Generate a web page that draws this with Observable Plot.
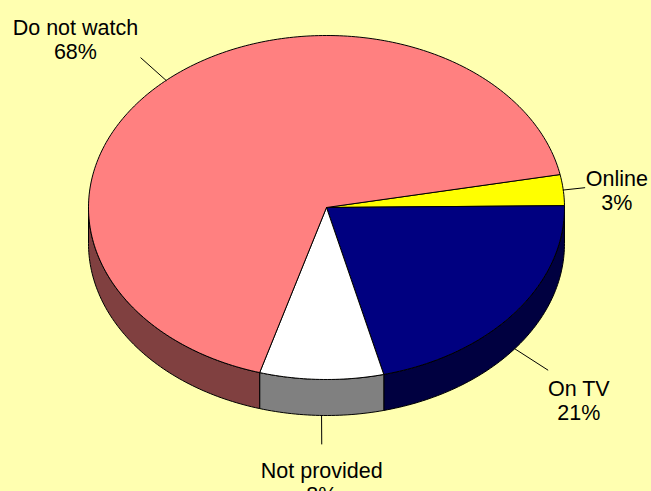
<!DOCTYPE html>
<html>
<head>
<meta charset="utf-8">
<script src="https://cdn.jsdelivr.net/npm/d3@7"></script>
<script src="https://cdn.jsdelivr.net/npm/@observablehq/plot@0.6"></script>
<style>
html,body{margin:0;padding:0;background:#ffffb0;overflow:hidden}
svg{display:block}
</style>
</head>
<body>
<div id="chart"></div>
<script>
// Data
const categories = ["Online", "On TV", "Not provided", "Do not watch"];
const shares = [2.9, 21.3, 8.4, 67.4];
const shareLabels = ["3%", "21%", "8%", "68%"];
const topColors = ["#ffff00", "#000080", "#ffffff", "#ff8080"];
const wallColors = ["#808000", "#000040", "#808080", "#804040"];

// Layout of the tilted pie, in units of the ellipse radii
const startDeg = -11.05;
const depth = 36 / 172;
const leaderEnd = [[1.085, -0.115], [0.93, 0.945], [-0.02, 1.375], [-0.78, -0.87]];
const labelAt = [[1.22, -0.10], [1.06, 1.12], [-0.02, 1.595], [-1.055, -0.98]];

const arcs = d3.pie().sort(null).startAngle(startDeg * Math.PI / 180)
  .endAngle(startDeg * Math.PI / 180 + 2 * Math.PI)(shares);

const pt = (t, dy = 0) => ({x: Math.cos(t), y: Math.sin(t) + dy});
const arcPts = (a, b, dy = 0) => {
  const n = Math.max(2, Math.ceil((b - a) / (Math.PI / 180)));
  return d3.range(n + 1).map(i => pt(a + (b - a) * i / n, dy));
};

const marks = [];
// Walls: only the part of each slice's rim on the near (lower) half shows
arcs.forEach((s, i) => {
  const a = Math.max(s.startAngle, 0), b = Math.min(s.endAngle, Math.PI);
  if (b <= a) return;
  const poly = [...arcPts(a, b), ...arcPts(a, b, depth).reverse()];
  poly.push(poly[0]);
  marks.push(Plot.line(poly, {x: "x", y: "y", fill: wallColors[i], stroke: "#000", strokeWidth: 1, curve: "linear"}));
});
// Top face
arcs.forEach((s, i) => {
  const poly = [{x: 0, y: 0}, ...arcPts(s.startAngle, s.endAngle), {x: 0, y: 0}];
  marks.push(Plot.line(poly, {x: "x", y: "y", fill: topColors[i], stroke: "#000", strokeWidth: 1, curve: "linear"}));
});
// Leader lines and labels
arcs.forEach((s, i) => {
  const mid = (s.startAngle + s.endAngle) / 2;
  const from = pt(mid, Math.sin(mid) > 0 ? depth : 0);
  marks.push(Plot.line([from, {x: leaderEnd[i][0], y: leaderEnd[i][1]}],
    {x: "x", y: "y", stroke: "#000", strokeWidth: 1, curve: "linear"}));
});
marks.push(Plot.text(categories.map((c, i) => ({x: labelAt[i][0], y: labelAt[i][1], t: c + "\n" + shareLabels[i]})), {
  x: "x", y: "y", text: "t", textAnchor: "middle", lineAnchor: "middle",
  fontSize: 21.5, lineHeight: 1.116, fill: "#000",
  fontFamily: "'Liberation Sans', Arial, sans-serif"
}));

const chart = Plot.plot({
  width: 651, height: 491,
  margin: 0,
  style: {background: "#ffffb0", overflow: "visible"},
  x: {domain: [-1, 1], range: [88, 564], axis: null},
  y: {domain: [-1, 1], range: [35, 379], axis: null},
  marks
});
document.getElementById("chart").appendChild(chart);
</script>
</body>
</html>
